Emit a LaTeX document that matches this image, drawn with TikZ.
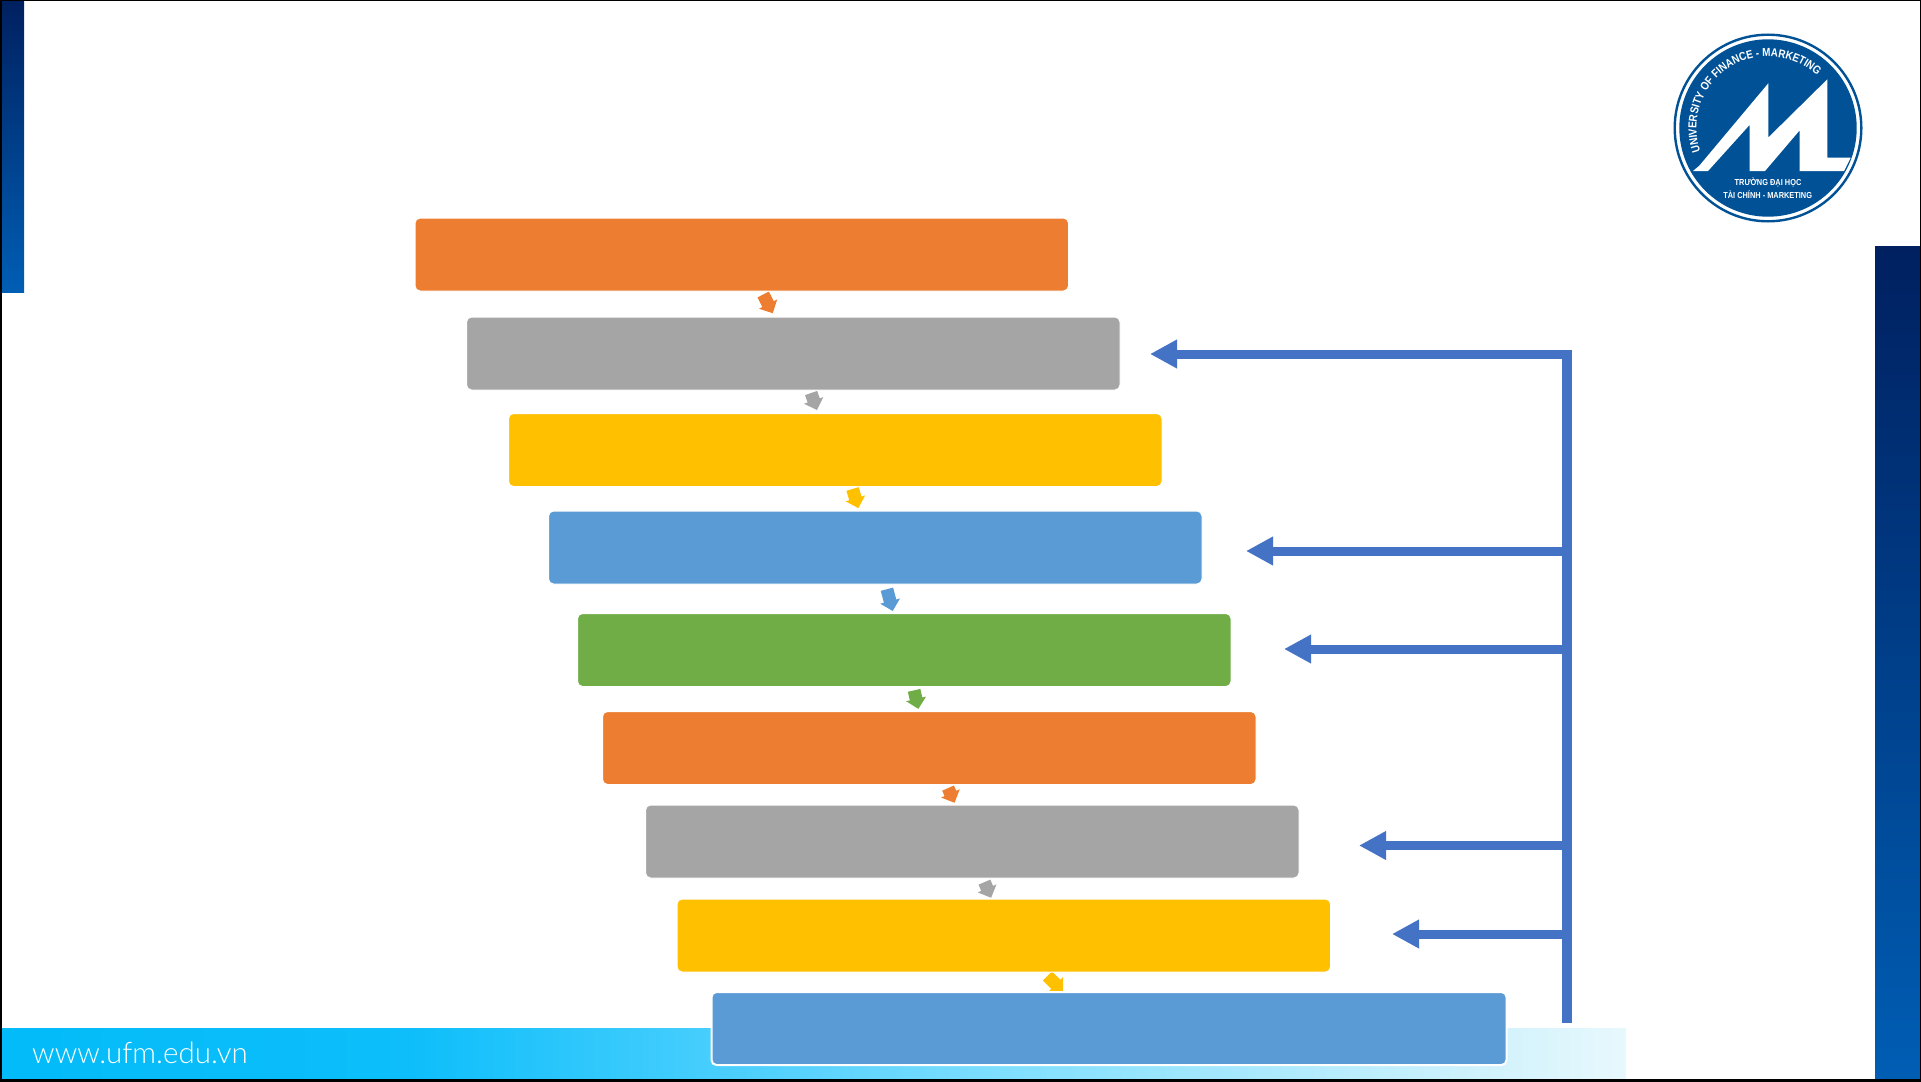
\documentclass[tikz,border=0pt]{standalone}
\usepackage{fontspec}
\setmainfont{Liberation Sans}
\newfontfamily\logofont[FakeStretch=0.85]{Liberation Sans}
\newfontfamily\urlfont{Lato Light}
\usetikzlibrary{arrows.meta,shapes.arrows,decorations.text}
\definecolor{cOrange}{HTML}{ED7D31}
\definecolor{cGray}{HTML}{A5A5A5}
\definecolor{cYellow}{HTML}{FFC000}
\definecolor{cBlue}{HTML}{5B9BD5}
\definecolor{cGreen}{HTML}{70AD47}
\definecolor{cLink}{HTML}{4472C4}
\definecolor{cLogo}{HTML}{005196}
\definecolor{cNavy}{HTML}{002060}
\definecolor{cRoyal}{HTML}{005EB4}
\definecolor{bA}{HTML}{03BBF9}
\definecolor{bB}{HTML}{0DBEFA}
\definecolor{bC}{HTML}{5AD3FE}
\definecolor{bD}{HTML}{80DFFF}
\definecolor{bE}{HTML}{D5F3FC}
\definecolor{bF}{HTML}{E8F8FD}
\pgfdeclarehorizontalshading{barshade}{100bp}{color(0bp)=(bA);color(25bp)=(bA);color(37.5bp)=(bB);color(50bp)=(bC);color(56bp)=(bD);color(71.5bp)=(bE);color(75bp)=(bF);color(100bp)=(bF)}
\tikzset{
  stepbox/.style={rectangle,rounded corners=5pt,draw=white,line width=1pt,fill=#1,
    minimum width=653.5pt,minimum height=73pt,anchor=north west,inner sep=0pt,outer sep=0pt},
  smallarrow/.style={single arrow,fill=#1,draw=none,inner sep=0pt,outer sep=0pt,
    single arrow head extend=3.8pt,single arrow tip angle=90,anchor=center},
  linkline/.style={draw=cLink,line width=9pt},
  linkarrow/.style={linkline,-{Triangle[length=27pt,width=27pt]}},
  sidebar/.style={top color=cNavy,bottom color=cRoyal,draw=none},
}
\newcommand{\shaftgap}{\rule{0pt}{12.4pt}}
\begin{document}
\begin{tikzpicture}[x=1pt,y=-1pt]
\useasboundingbox (0,0) rectangle (1921,1081);
\fill[white] (0,0) rectangle (1921,1081);
% side bars and footer band
\shade[sidebar] (0,0) rectangle (24,292);
\shade[sidebar] (1875,246) rectangle (1921,1081);
\shade[shading=barshade,draw=none] (0,1028) rectangle (1626,1081);
\node[anchor=base west,inner sep=0pt,text=white,font=\urlfont\fontsize{29.5pt}{31pt}\selectfont] (url) at (32,1063) {www.ufm.edu.vn};
% small arrows between the boxes
\node[smallarrow=cOrange,minimum height=21pt,rotate=-63] (s1) at (766.5,301) {\shaftgap};
\node[smallarrow=cGray,minimum height=18pt,rotate=-71] (s2) at (813,398.5) {\shaftgap};
\node[smallarrow=cYellow,minimum height=20pt,rotate=-73] (s3) at (854.5,495.5) {\shaftgap};
\node[smallarrow=cBlue,minimum height=22.5pt,rotate=-75] (s4) at (889,597) {\shaftgap};
\node[smallarrow=cGreen,minimum height=19pt,rotate=-77] (s5) at (915.5,696.5) {\shaftgap};
\node[smallarrow=cOrange,minimum height=16pt,rotate=-66] (s6) at (950,792.5) {\shaftgap};
\node[smallarrow=cGray,minimum height=17pt,rotate=-67] (s7) at (986.5,887) {\shaftgap};
\node[smallarrow=cYellow,minimum height=22pt,rotate=-45] (s8) at (1053,981.5) {\shaftgap};
% boxes
\node[stepbox=cOrange] (b1) at (415,218) {};
\node[stepbox=cGray] (b2) at (466.5,317) {};
\node[stepbox=cYellow] (b3) at (508.5,413.5) {};
\node[stepbox=cBlue] (b4) at (548.5,511) {};
\node[stepbox=cGreen] (b5) at (577.5,613.5) {};
\node[stepbox=cOrange] (b6) at (602.5,711.5) {};
\node[stepbox=cGray] (b7) at (645.5,805) {};
\node[stepbox=cYellow] (b8) at (677,899) {};
\node[stepbox=cBlue,minimum width=795pt,line width=2pt] (b9) at (711.5,992) {};
% feedback connector
\coordinate (top) at (1567,349.5);
\coordinate (bot) at (1567,1023);
\coordinate (j2) at (1572,354);
\coordinate (j4) at (1567,551);
\coordinate (j5) at (1567,649);
\coordinate (j7) at (1567,845.5);
\coordinate (j8) at (1567,934);
\coordinate (t2) at (1150,354);
\coordinate (t4) at (1246,551);
\coordinate (t5) at (1284,649);
\coordinate (t7) at (1359,845.5);
\coordinate (t8) at (1392,934);
\draw[draw=cLink,line width=10pt] (top) -- (bot);
\draw[linkarrow] (j2) -- (t2);
\draw[linkarrow] (j4) -- (t4);
\draw[linkarrow] (j5) -- (t5);
\draw[linkarrow] (j7) -- (t7);
\draw[linkarrow] (j8) -- (t8);
% logo
\fill[white] (1768,128) circle[radius=94.5pt];
\draw[cLogo,line width=2.4pt] (1768,128) circle[radius=93.3pt];
\fill[cLogo] (1768,128) circle[radius=88.7pt];
\fill[white] (1699.3,165.7) -- (1768.3,83.3) -- (1768.3,137.5) -- (1827.3,79.3) -- (1827.3,157.7)
  -- (1850.7,157.7) -- (1844,171) -- (1799.5,171) -- (1799.5,130.5) -- (1765,171) -- (1749.5,171)
  -- (1749.5,125) -- (1708,171) -- (1693,171) -- cycle;
\begin{scope}[shift={(1768,128)},y=1pt]
  \path[postaction={decorate,decoration={text along path,text align=center,
      text={|\logofont\fontsize{11.6pt}{12pt}\selectfont\bfseries\color{white}|UNIVERSITY OF FINANCE - MARKETING}}}]
    (202:71.5) arc[start angle=202,end angle=44,radius=71.5];
\end{scope}
\node[inner sep=0pt,text=white,font=\logofont\bfseries\fontsize{8.7pt}{9pt}\selectfont] (l1) at (1768,182.7) {TRƯỜNG ĐẠI HỌC};
\node[inner sep=0pt,text=white,font=\logofont\bfseries\fontsize{8.7pt}{9pt}\selectfont] (l2) at (1767.7,194.3) {TÀI CHÍNH - MARKETING};
% frame
\draw[black,line width=3pt] (0,0) rectangle (1921,1080);
\fill[black] (0,1079.5) rectangle (1921,1081);
\end{tikzpicture}
\end{document}
